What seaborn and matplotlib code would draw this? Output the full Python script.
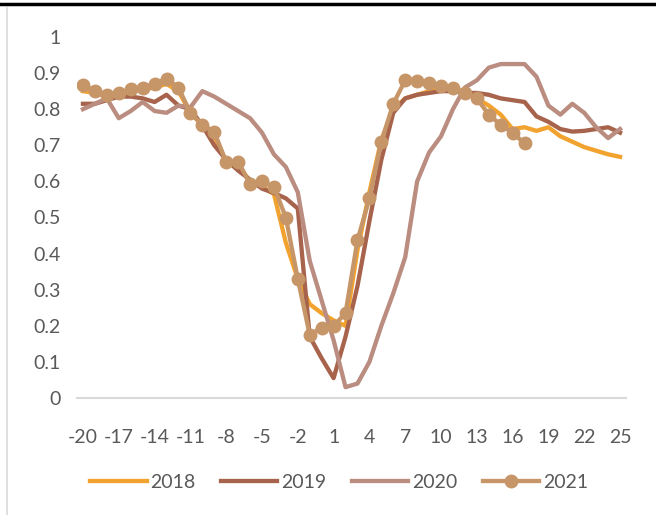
import numpy as np
import pandas as pd
import matplotlib
matplotlib.use("Agg")
import matplotlib.pyplot as plt
import seaborn as sns
from matplotlib.lines import Line2D

# Données (semaines -20 .. 25)
semaines = list(range(-20, 26))

v2018 = [0.85, 0.845, 0.835, 0.84, 0.85, 0.855, 0.86, 0.87, 0.85, 0.79,
         0.755, 0.725, 0.655, 0.645, 0.60, 0.585, 0.565, 0.43, 0.33, 0.26,
         0.235, 0.215, 0.20, 0.41, 0.57, 0.715, 0.80, 0.83, 0.84, 0.85,
         0.855, 0.855, 0.85, 0.83, 0.81, 0.785, 0.745, 0.75, 0.74, 0.75,
         0.725, 0.71, 0.695, 0.685, 0.675, 0.668]

v2019 = [0.815, 0.815, 0.825, 0.835, 0.835, 0.83, 0.82, 0.84, 0.81, 0.80,
         0.755, 0.70, 0.66, 0.63, 0.605, 0.58, 0.568, 0.553, 0.525, 0.17,
         0.11, 0.055, 0.17, 0.31, 0.49, 0.66, 0.79, 0.83, 0.84, 0.845,
         0.85, 0.85, 0.845, 0.845, 0.84, 0.83, 0.825, 0.82, 0.78, 0.765,
         0.745, 0.738, 0.74, 0.745, 0.75, 0.735]

v2020 = [0.80, 0.815, 0.83, 0.775, 0.795, 0.82, 0.795, 0.79, 0.81, 0.805,
         0.85, 0.835, 0.815, 0.795, 0.775, 0.735, 0.675, 0.64, 0.57, 0.38,
         0.27, 0.16, 0.03, 0.04, 0.10, 0.20, 0.29, 0.39, 0.60, 0.68,
         0.725, 0.80, 0.86, 0.88, 0.915, 0.925, 0.925, 0.925, 0.89, 0.81,
         0.785, 0.815, 0.79, 0.75, 0.72, 0.745]

v2021 = [0.867, 0.85, 0.838, 0.845, 0.855, 0.86, 0.87, 0.885, 0.86, 0.79,
         0.757, 0.737, 0.654, 0.655, 0.593, 0.60, 0.585, 0.50, 0.33, 0.175,
         0.195, 0.20, 0.235, 0.437, 0.553, 0.71, 0.815, 0.88, 0.877, 0.873,
         0.865, 0.858, 0.845, 0.83, 0.785, 0.757, 0.735, 0.705]

couleurs = {"2018": "#F2A22E", "2019": "#A7634B", "2020": "#BA8D80", "2021": "#C69568"}

##########################################################

df = pd.DataFrame({"semaine": semaines, "2018": v2018, "2019": v2019, "2020": v2020})
df["2021"] = v2021 + [np.nan] * (len(semaines) - len(v2021))

gris = "#595959"
plt.rcParams["font.family"] = ["Lato", "DejaVu Sans"]
plt.rcParams["axes.unicode_minus"] = False

fig = plt.figure(figsize=(6.56, 5.15), dpi=100)
ax = fig.add_axes([77 / 656, 1 - 398 / 515, 549 / 656, 361 / 515])

for annee in ["2018", "2019", "2020"]:
    sns.lineplot(data=df, x="semaine", y=annee, ax=ax, color=couleurs[annee],
                 linewidth=3.1, label=annee)
sns.lineplot(data=df.dropna(subset=["2021"]), x="semaine", y="2021", ax=ax,
             color=couleurs["2021"], linewidth=3.1, marker="o", markersize=10,
             markeredgewidth=0, label="2021")

ax.set_xlim(-20.5, 25.5)
ax.set_ylim(0, 1)
ax.set_xticks(semaines[::3])
ax.set_yticks(np.arange(0, 1.01, 0.1))
ax.set_yticklabels(["0"] + [f"{v:.1f}" for v in np.arange(0.1, 0.95, 0.1)] + ["1"])
ax.set_xlabel("")
ax.set_ylabel("")
ax.tick_params(axis="both", length=0, labelsize=14, colors=gris)
ax.tick_params(axis="x", pad=22)
ax.tick_params(axis="y", pad=12)
for s in ["top", "right", "left"]:
    ax.spines[s].set_visible(False)
ax.spines["bottom"].set_color("#D9D9D9")
ax.spines["bottom"].set_linewidth(1.5)

leg = ax.legend(loc="center", bbox_to_anchor=(0.517, 0.064), bbox_transform=fig.transFigure,
                ncol=4, frameon=False, fontsize=14, handlelength=2.9,
                handletextpad=0.2, columnspacing=1.3)
for t in leg.get_texts():
    t.set_color(gris)

# Cadre
fig.add_artist(Line2D([0, 1], [1 - 4 / 515, 1 - 4 / 515], color="black", linewidth=2.5))
fig.add_artist(Line2D([7 / 656, 7 / 656], [0, 1 - 8 / 515], color="#D9D9D9", linewidth=1.2))

fig.savefig("out.png", dpi=100)
